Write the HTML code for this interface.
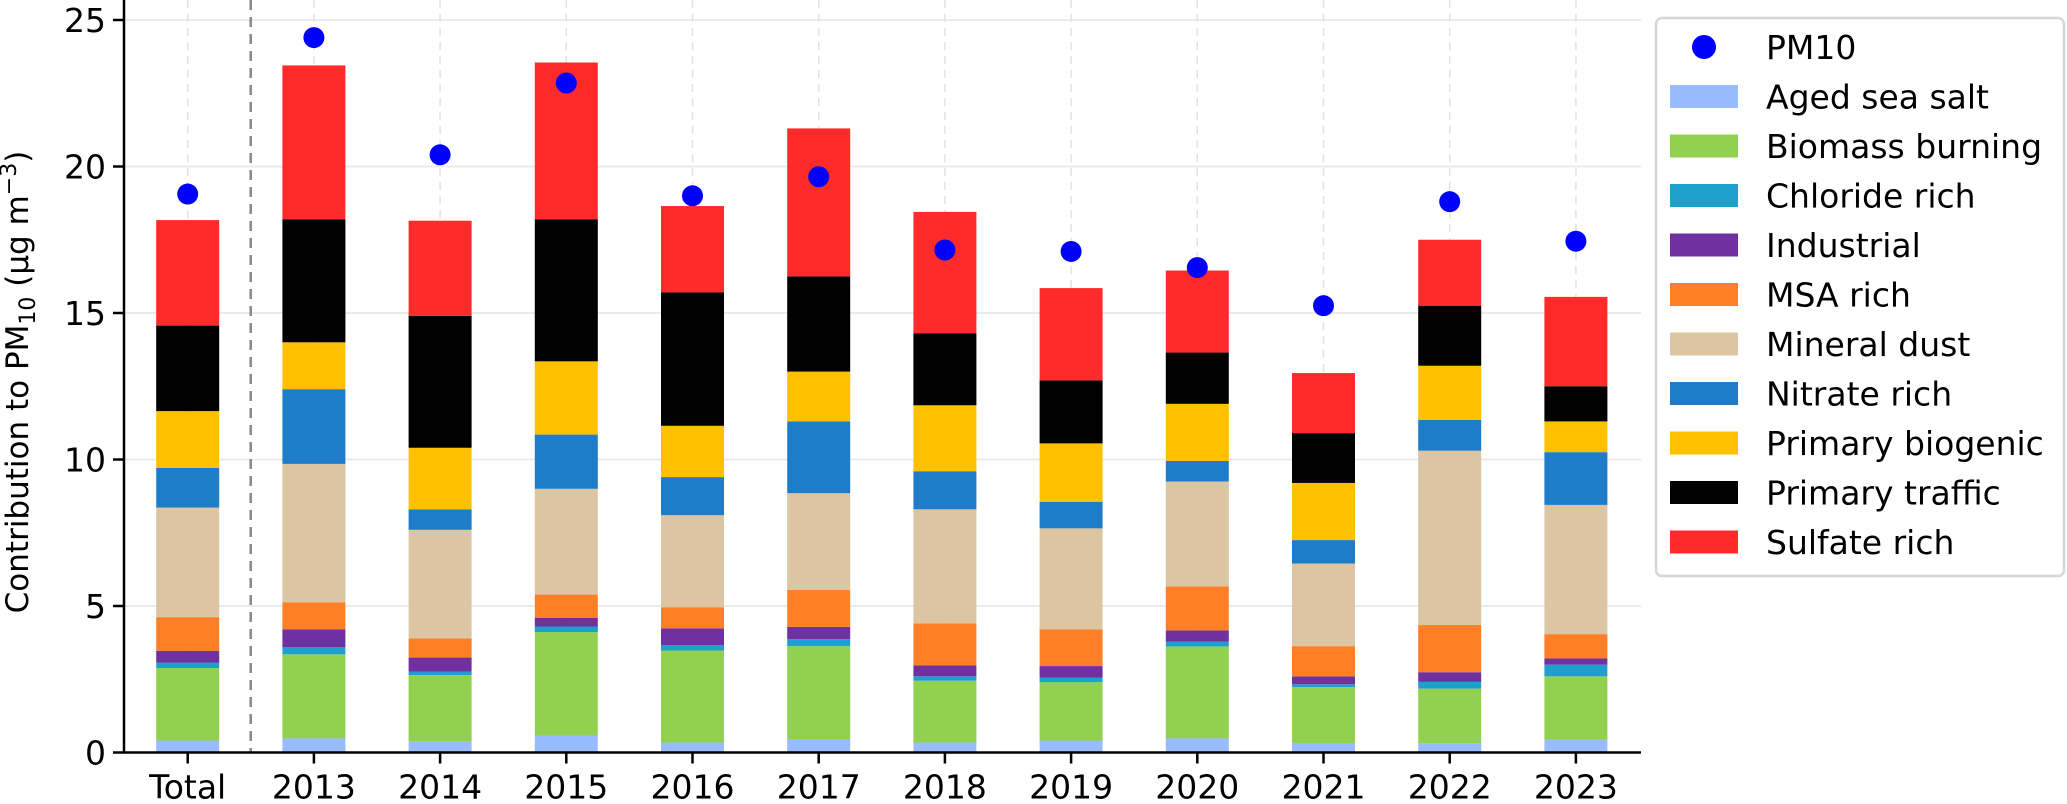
<!DOCTYPE html>
<html><head><meta charset="utf-8"><style>
body{margin:0;background:#fff;}
svg{display:block;font-family:"DejaVu Sans","Liberation Sans",sans-serif;}
</style></head><body>
<svg id="chart" width="2067" height="804" viewBox="0 0 2067 804" xmlns="http://www.w3.org/2000/svg">
<g id="grid"></g>
<g id="bars"></g>
<g id="dots"></g>
<g id="axes"></g>
<text transform="translate(28,382) rotate(-90)" text-anchor="middle" font-size="31">Contribution to PM<tspan font-size="22" dy="7">10</tspan><tspan dy="-7"> (μg m</tspan><tspan font-size="22" dy="-12">−3</tspan><tspan dy="12">)</tspan></text>
<g id="legend"></g>
</svg>
<script>
const categories = ["Total","2013","2014","2015","2016","2017","2018","2019","2020","2021","2022","2023"];
const sources = ["Aged sea salt","Biomass burning","Chloride rich","Industrial","MSA rich","Mineral dust","Nitrate rich","Primary biogenic","Primary traffic","Sulfate rich"];
const agedSeaSalt   = [0.41,0.48,0.37,0.58,0.34,0.46,0.34,0.41,0.48,0.31,0.32,0.44];
const biomass       = [2.47,2.87,2.27,3.53,3.14,3.17,2.11,1.99,3.14,1.92,1.86,2.16];
const chloride      = [0.19,0.25,0.12,0.19,0.18,0.24,0.15,0.16,0.17,0.10,0.23,0.40];
const industrial    = [0.40,0.60,0.48,0.30,0.58,0.42,0.37,0.39,0.38,0.27,0.33,0.21];
const msaRich       = [1.15,0.93,0.65,0.79,0.72,1.26,1.44,1.25,1.50,1.03,1.61,0.83];
const mineralDust   = [3.74,4.72,3.71,3.61,3.14,3.30,3.89,3.45,3.58,2.82,5.95,4.41];
const nitrateRich   = [1.35,2.55,0.70,1.85,1.30,2.45,1.30,0.90,0.70,0.80,1.05,1.80];
const primBiogenic  = [1.94,1.60,2.10,2.50,1.75,1.70,2.25,2.00,1.95,1.95,1.85,1.05];
const primTraffic   = [2.92,4.20,4.50,4.85,4.55,3.25,2.45,2.15,1.75,1.70,2.05,1.20];
const sulfateRich   = [3.60,5.25,3.25,5.35,2.95,5.05,4.15,3.15,2.80,2.05,2.25,3.05];
const pm10          = [19.06,24.4,20.4,22.85,19.0,19.65,17.15,17.1,16.55,15.25,18.8,17.45];
const yTicks = [0,5,10,15,20,25];

const series=[agedSeaSalt,biomass,chloride,industrial,msaRich,mineralDust,nitrateRich,primBiogenic,primTraffic,sulfateRich];
const colors=["#99bbff","#92d050","#1f9fcc","#7030a0","#ff7f27","#dbc5a3","#1f7cc9","#ffc000","#000000","#ff2a2a"];
const NS="http://www.w3.org/2000/svg";
const X0=124,X1=1641,Y0=752.5,PX=29.3;
const x=i=>187.7+i*126.2;
const y=v=>Y0-v*PX;
const BW=63;
function mk(tag,attrs,parent){const e=document.createElementNS(NS,tag);for(const k in attrs)e.setAttribute(k,attrs[k]);parent.appendChild(e);return e;}
const grid=document.getElementById('grid'),bars=document.getElementById('bars'),dots=document.getElementById('dots'),axes=document.getElementById('axes'),legend=document.getElementById('legend');
yTicks.forEach(t=>{if(t===0)return;const l=mk('line',{x1:X0,x2:X1,y1:y(t),y2:y(t),stroke:'#ebebeb','stroke-width':2},grid);

});
categories.forEach((c,i)=>{const l=mk('line',{x1:x(i),x2:x(i),y1:0,y2:Y0,stroke:'#e2e2e2','stroke-width':1.5,'stroke-dasharray':'8,6'},grid);

});
categories.forEach((c,i)=>{let cum=0;series.forEach((s,k)=>{const v=s[i];const r=mk('rect',{x:x(i)-BW/2,y:y(cum+v),width:BW,height:v*PX,fill:colors[k]},bars);


cum+=v;});
const d=mk('circle',{cx:x(i),cy:y(pm10[i]),r:10.5,fill:'#0000ff'},dots);

});
const sep=mk('line',{x1:250.7,x2:250.7,y1:0,y2:Y0,stroke:'#888','stroke-width':2.5,'stroke-dasharray':'10,7'},axes);


const ya=mk('line',{x1:X0,x2:X0,y1:0,y2:Y0+1,stroke:'#000','stroke-width':2.5},axes);


const xa=mk('line',{x1:X0-1,x2:X1,y1:Y0,y2:Y0,stroke:'#000','stroke-width':2.5},axes);


yTicks.forEach(t=>{mk('line',{x1:X0-11,x2:X0,y1:y(t),y2:y(t),stroke:'#000','stroke-width':2.5},axes);
const tx=mk('text',{x:X0-18,y:y(t)+12,'text-anchor':'end','font-size':33},axes);tx.textContent=t;

});
categories.forEach((c,i)=>{mk('line',{x1:x(i),x2:x(i),y1:Y0,y2:Y0+11,stroke:'#000','stroke-width':2.5},axes);
const tx=mk('text',{x:x(i),y:Y0+46,'text-anchor':'middle','font-size':33},axes);tx.textContent=c;

});
// legend
const lb=mk('rect',{x:1656,y:18,width:408,height:558,rx:6,fill:'#fff',stroke:'#d6d6d6','stroke-width':2.5},legend);


const names=['PM10'].concat(sources);
names.forEach((n,j)=>{const cy=47+j*49.5;
if(j===0){const m=mk('circle',{cx:1704,cy:cy,r:12,fill:'#0000ff'},legend);

}
else{const m=mk('rect',{x:1670,y:cy-11.5,width:68,height:23,fill:colors[j-1]},legend);

}
const t=mk('text',{x:1766,y:cy+12,'font-size':33},legend);t.textContent=n;

});
</script>
</body></html>
